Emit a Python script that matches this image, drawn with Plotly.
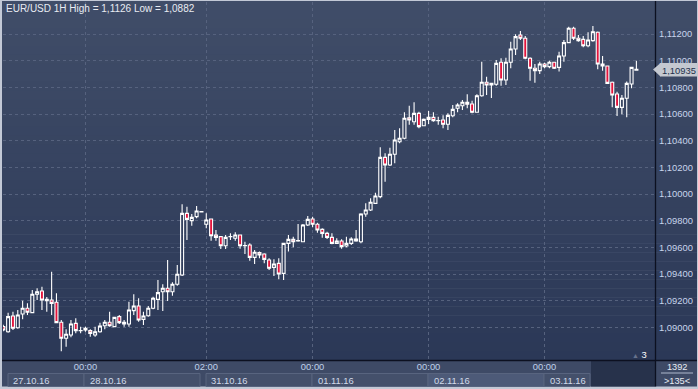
import plotly.graph_objects as go

# ---- data (EUR/USD 1H candles) ----
hours = list(range(132))
opens = [1.09005, 1.08967, 1.09085, 1.08997, 1.0910, 1.09143, 1.0911, 1.09248, 1.09273, 1.0920,
         1.09205, 1.09188, 1.09038, 1.08918, 1.08943, 1.0903, 1.08975, 1.08993, 1.08975, 1.08943,
         1.08967, 1.09012, 1.09038, 1.09005, 1.0908, 1.09038, 1.09025, 1.09125, 1.0916, 1.0906,
         1.09087, 1.09143, 1.0921, 1.09267, 1.09293, 1.09267, 1.09323, 1.09393, 1.09855, 1.0980,
         1.0983, 1.09866, 1.09773, 1.09813, 1.09693, 1.0968, 1.09612, 1.0968, 1.09668, 1.09693,
         1.09612, 1.09618, 1.09525, 1.0956, 1.0955, 1.09505, 1.0945, 1.0948, 1.09405, 1.0963,
         1.0966, 1.09648, 1.09642, 1.09768, 1.09813, 1.09773, 1.09735, 1.09705, 1.09675, 1.0963,
         1.09648, 1.0961, 1.0963, 1.09663, 1.09642, 1.0985, 1.0988, 1.0993, 1.0998, 1.10275,
         1.10218, 1.10298, 1.10392, 1.10418, 1.10572, 1.10542, 1.10605, 1.10512, 1.1056, 1.10575,
         1.10549, 1.10555, 1.10523, 1.10587, 1.10643, 1.10662, 1.10688, 1.10675, 1.10613, 1.10737,
         1.10838, 1.10818, 1.10823, 1.10988, 1.10855, 1.10988, 1.11088, 1.11193, 1.11168, 1.11018,
         1.10943, 1.10925, 1.10975, 1.10955, 1.10988, 1.1095, 1.11035, 1.11135, 1.11243, 1.11168,
         1.1116, 1.11112, 1.1115, 1.11213, 1.10975, 1.1096, 1.10838, 1.1075, 1.1065, 1.10718,
         1.10825, 1.10928]
highs = [1.0902, 1.0911, 1.09117, 1.0913, 1.0920, 1.0918, 1.0928, 1.09293, 1.09305, 1.09228,
         1.09417, 1.09255, 1.09055, 1.08985, 1.09055, 1.09068, 1.09005, 1.09005, 1.08985, 1.09005,
         1.09035, 1.09055, 1.09117, 1.0908, 1.09093, 1.09055, 1.09192, 1.09248, 1.09218, 1.09117,
         1.0916, 1.0923, 1.09355, 1.09323, 1.09505, 1.09338, 1.09468, 1.09923, 1.09905, 1.0985,
         1.0991, 1.09869, 1.09855, 1.09813, 1.0973, 1.09685, 1.09693, 1.09705, 1.09713, 1.09696,
         1.09642, 1.0963, 1.0958, 1.09568, 1.09555, 1.09518, 1.0951, 1.09518, 1.09635, 1.09693,
         1.0968, 1.09775, 1.09775, 1.09835, 1.0983, 1.09785, 1.09743, 1.09717, 1.09705, 1.09668,
         1.0966, 1.0968, 1.09675, 1.0973, 1.09855, 1.0993, 1.09968, 1.1001, 1.1035, 1.10305,
         1.10347, 1.1048, 1.10493, 1.10613, 1.10662, 1.10688, 1.10617, 1.10566, 1.10623, 1.10613,
         1.1058, 1.1059, 1.10605, 1.10668, 1.1068, 1.10705, 1.10748, 1.1070, 1.10748, 1.10992,
         1.1088, 1.10833, 1.11005, 1.11018, 1.11022, 1.11142, 1.11198, 1.11223, 1.11185, 1.11025,
         1.10975, 1.10992, 1.10985, 1.1100, 1.10992, 1.11067, 1.11155, 1.11255, 1.11255, 1.11193,
         1.11185, 1.11213, 1.1126, 1.11218, 1.11035, 1.10964, 1.10843, 1.10767, 1.10743, 1.10843,
         1.10955, 1.1100]
lows = [1.0897, 1.0896, 1.0898, 1.0899, 1.0906, 1.09093, 1.09105, 1.09205, 1.0913, 1.09117,
        1.09093, 1.0903, 1.0882, 1.08855, 1.08925, 1.08955, 1.08955, 1.08967, 1.0893, 1.0893,
        1.0896, 1.08985, 1.09005, 1.09003, 1.09025, 1.09005, 1.09005, 1.09093, 1.09042, 1.09018,
        1.0908, 1.09135, 1.0913, 1.09123, 1.09198, 1.09237, 1.09312, 1.09385, 1.09655, 1.09762,
        1.09818, 1.09865, 1.09743, 1.0965, 1.0965, 1.09588, 1.09588, 1.09655, 1.0965, 1.0959,
        1.0955, 1.0950, 1.09475, 1.09518, 1.0948, 1.0943, 1.09385, 1.0936, 1.09355, 1.09568,
        1.0960, 1.09642, 1.0964, 1.0976, 1.0975, 1.0971, 1.09672, 1.09663, 1.09623, 1.09628,
        1.0959, 1.0960, 1.09618, 1.09642, 1.0963, 1.0983, 1.09873, 1.09925, 1.09968, 1.10092,
        1.1021, 1.1023, 1.1038, 1.1041, 1.1052, 1.1052, 1.10493, 1.1051, 1.10525, 1.10542,
        1.1052, 1.10493, 1.1048, 1.10575, 1.10613, 1.1063, 1.10643, 1.10605, 1.1061, 1.1073,
        1.10743, 1.1072, 1.10812, 1.10812, 1.10818, 1.10943, 1.11043, 1.11155, 1.1101, 1.1085,
        1.10835, 1.1090, 1.10943, 1.10943, 1.10938, 1.10918, 1.10992, 1.1113, 1.11155, 1.11142,
        1.1110, 1.1110, 1.11142, 1.10935, 1.10925, 1.10825, 1.1065, 1.10585, 1.10598, 1.10575,
        1.10793, 1.10925]
closes = [1.0898, 1.0908, 1.08993, 1.09093, 1.09143, 1.09113, 1.09248, 1.09267, 1.09205, 1.0921,
          1.0918, 1.09035, 1.08918, 1.08948, 1.09025, 1.08975, 1.08976, 1.0898, 1.08955, 1.08967,
          1.0901, 1.09038, 1.09012, 1.09075, 1.09035, 1.09025, 1.0913, 1.0916, 1.09055, 1.09085,
          1.09143, 1.09218, 1.0926, 1.09293, 1.09267, 1.09323, 1.09398, 1.09855, 1.0981, 1.09825,
          1.09873, 1.09868, 1.09805, 1.09687, 1.09675, 1.09612, 1.09675, 1.09681, 1.09693, 1.09612,
          1.09613, 1.09525, 1.09563, 1.09543, 1.0951, 1.09443, 1.09475, 1.0940, 1.0963, 1.0966,
          1.09642, 1.0965, 1.09768, 1.0981, 1.09773, 1.0973, 1.09705, 1.09675, 1.0963, 1.09648,
          1.09605, 1.0963, 1.09663, 1.09648, 1.0985, 1.0988, 1.09938, 1.09985, 1.10275, 1.10218,
          1.10298, 1.10405, 1.10418, 1.10568, 1.10555, 1.10605, 1.10505, 1.1056, 1.10575, 1.1055,
          1.1055, 1.10523, 1.1059, 1.10635, 1.10668, 1.10688, 1.10673, 1.10613, 1.10737, 1.10838,
          1.10818, 1.1083, 1.1098, 1.10855, 1.10988, 1.11088, 1.1118, 1.11168, 1.11018, 1.10943,
          1.10925, 1.10975, 1.10955, 1.10988, 1.10943, 1.11035, 1.11135, 1.11243, 1.11168, 1.1115,
          1.11112, 1.11155, 1.11217, 1.10975, 1.1096, 1.1083, 1.10743, 1.1065, 1.10718, 1.1083,
          1.1095, 1.10935]

tick_hours = [17, 42, 64, 88, 112]
tick_texts = ["00:00", "02:00", "00:00", "00:00", "00:00"]
price_ticks = [1.090, 1.092, 1.094, 1.096, 1.098, 1.100, 1.102, 1.104, 1.106, 1.108, 1.110, 1.112]
date_labels = ["27.10.16", "28.10.16", "31.10.16", "01.11.16", "02.11.16", "03.11.16"]
title_text = "EUR/USD 1H High = 1,1126 Low = 1,0882"
last_price = "1,10935"

# ---- geometry helpers (pixel -> paper) ----
W, H = 698, 389
L, R, T, B = 3, 655, 2, 360
def xp(px):
    return (px - L) / (R - L)
def yp(py):
    return (B - py) / (B - T)

shapes = []
# gradient background
n = 40
c0 = (64, 77, 104)
c1 = (43, 56, 87)
for k in range(n):
    f = k / (n - 1)
    col = "rgb(%d,%d,%d)" % tuple(round(c0[j] + (c1[j] - c0[j]) * f) for j in range(3))
    y0 = 1 + (B - 1) * k / n
    y1 = 1 + (B - 1) * (k + 1) / n
    shapes.append(dict(type="rect", xref="paper", yref="paper", x0=xp(2), x1=xp(697),
                       y0=yp(y1 + 0.5), y1=yp(y0), fillcolor=col, line=dict(width=0), layer="below"))
# bottom strip
shapes.append(dict(type="rect", xref="paper", yref="paper", x0=xp(2), x1=xp(697), y0=yp(386.5), y1=yp(360),
                   fillcolor="#3e4a66", line=dict(width=0), layer="below"))
box_edges = [(8, 84), (84, 200), (206, 312), (312, 428), (428, 544), (544, 590)]
for i, (a, b) in enumerate(box_edges):
    fill = "#4d5a78" if i == 4 else "#44506b"
    shapes.append(dict(type="rect", xref="paper", yref="paper", x0=xp(a), x1=xp(b), y0=yp(386.5), y1=yp(373.5),
                       fillcolor=fill, line=dict(color="#58647f", width=1), layer="below"))
# dark box
shapes.append(dict(type="rect", xref="paper", yref="paper", x0=xp(591), x1=xp(655), y0=yp(386.5), y1=yp(361),
                   fillcolor="#27324b", line=dict(width=0), layer="below"))
# black separator lines
shapes.append(dict(type="line", xref="paper", yref="paper", x0=xp(2), x1=xp(697), y0=yp(360.5), y1=yp(360.5),
                   line=dict(color="#0c1020", width=1.3)))
shapes.append(dict(type="line", xref="paper", yref="paper", x0=xp(655.5), x1=xp(655.5), y0=yp(386.5), y1=yp(1),
                   line=dict(color="#0c1020", width=1.3)))
# underline in right-bottom panel
shapes.append(dict(type="line", xref="paper", yref="paper", x0=xp(661), x1=xp(693), y0=yp(373), y1=yp(373),
                   line=dict(color="#aeb8cc", width=1)))
# current price label box + arrow
shapes.append(dict(type="rect", xref="paper", yref="paper", x0=xp(660), x1=xp(698), y0=yp(76.5), y1=yp(63),
                   fillcolor="#c4c8d0", line=dict(width=0), layer="above"))
shapes.append(dict(type="path", xref="paper", yref="paper",
                   path="M %f %f L %f %f L %f %f Z" % (xp(653), yp(69.5), xp(660.5), yp(63), xp(660.5), yp(76.5)),
                   fillcolor="#c4c8d0", line=dict(width=0), layer="above"))

font_family = "Liberation Sans, Arial, sans-serif"
annotations = []
annotations.append(dict(text=title_text, xref="paper", yref="paper", x=xp(4), y=yp(8), xanchor="left",
                        yanchor="middle", showarrow=False, font=dict(size=10, color="#e8ebf2", family=font_family)))
text_x = [11, 88, 209, 316, 432, 548]
for tx, lab in zip(text_x, date_labels):
    annotations.append(dict(text=lab, xref="paper", yref="paper", x=xp(tx), y=yp(380.5), xanchor="left",
                            yanchor="middle", showarrow=False, font=dict(size=9.4, color="#d2dbea", family=font_family)))
annotations.append(dict(text=last_price, xref="paper", yref="paper", x=xp(679), y=yp(70), xanchor="center",
                        yanchor="middle", showarrow=False, font=dict(size=9.4, color="#22304c", family=font_family)))
annotations.append(dict(text="1392", xref="paper", yref="paper", x=xp(677), y=yp(367), xanchor="center",
                        yanchor="middle", showarrow=False, font=dict(size=9.2, color="#e8ecf4", family=font_family)))
annotations.append(dict(text="&gt;135&lt;", xref="paper", yref="paper", x=xp(677), y=yp(380.5), xanchor="center",
                        yanchor="middle", showarrow=False, font=dict(size=9.2, color="#e8ecf4", family=font_family)))
annotations.append(dict(text="<span style='color:#66728c;font-size:7px'>&#9650;</span> 3", xref="paper", yref="paper",
                        x=xp(649), y=yp(354), xanchor="right", yanchor="middle", showarrow=False,
                        font=dict(size=9.4, color="#ffffff", family=font_family)))

fig = go.Figure(go.Candlestick(
    x=hours, open=opens, high=highs, low=lows, close=closes,
    increasing=dict(line=dict(color="#ffffff", width=1.1), fillcolor="rgba(0,0,0,0)"),
    decreasing=dict(line=dict(color="#ffffff", width=1.1), fillcolor="#e3143c"),
    whiskerwidth=0, hoverinfo="none", showlegend=False))

fig.update_layout(
    width=W, height=H, autosize=False,
    margin=dict(l=L, r=W - R, t=T, b=H - B, pad=0),
    paper_bgcolor="#c3c9d6", plot_bgcolor="rgba(0,0,0,0)",
    separators=",.",
    boxgap=0.12,
    shapes=shapes, annotations=annotations,
    font=dict(family=font_family),
    xaxis=dict(range=[-0.06, 134.85], tickmode="array", tickvals=tick_hours, ticktext=tick_texts,
               showgrid=True, gridcolor="#56627e", griddash="3px,3px", gridwidth=1,
               zeroline=False, showline=False, ticks="", tickfont=dict(size=9.4, color="#bfd0ea"),
               rangeslider=dict(visible=False), fixedrange=True, automargin=False),
    yaxis=dict(side="right", range=[1.08755, 1.1144], tickmode="array", tickvals=price_ticks,
               tickformat=".5f", showgrid=True, gridcolor="#56627e", griddash="3px,3px", gridwidth=1,
               zeroline=False, showline=False, ticks="", ticklabelstandoff=3,
               tickfont=dict(size=9.4, color="#c8d5ec"), fixedrange=True, automargin=False),
)

fig.write_html("out.html", config={"displayModeBar": False},
               post_script="document.body.style.margin='0px';document.body.style.overflow='hidden';")
